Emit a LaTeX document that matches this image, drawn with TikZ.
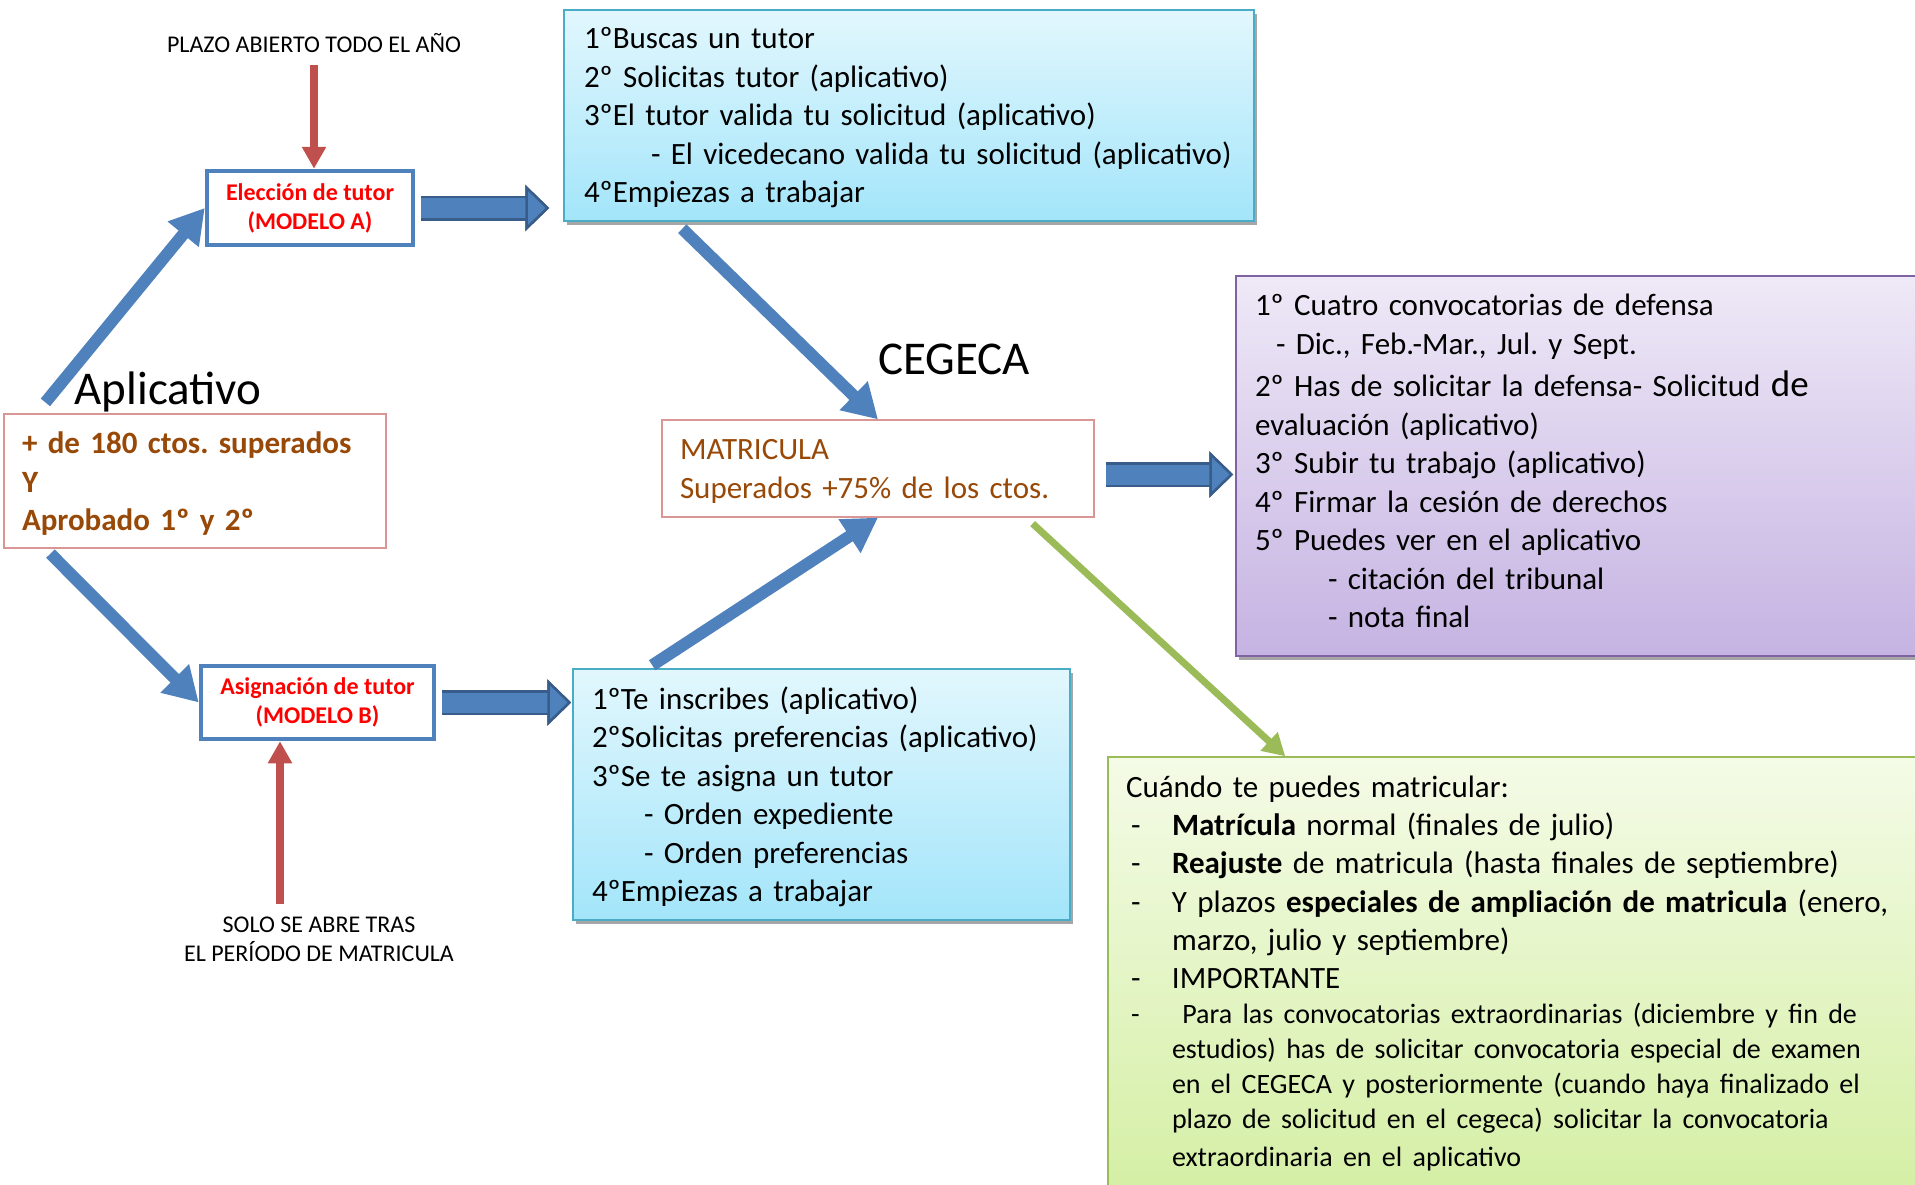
\documentclass[tikz,border=0pt]{standalone}
\usepackage{fontspec}
\setmainfont{Carlito}
\usepackage{tikz}
\usetikzlibrary{arrows.meta,shadows}

\definecolor{arrowblue}{HTML}{4F81BD}
\definecolor{darkblue}{HTML}{385D8A}
\definecolor{arrowred}{HTML}{C0504D}
\definecolor{arrowgreen}{HTML}{9BBB59}
\definecolor{textbrown}{HTML}{984807}
\definecolor{pinkline}{HTML}{D99694}
\definecolor{cyanline}{HTML}{4BACC6}
\definecolor{cyantop}{HTML}{E2F7FD}
\definecolor{cyanbot}{HTML}{A3E5FA}
\definecolor{purpleline}{HTML}{8064A2}
\definecolor{purpletop}{HTML}{EFE9F7}
\definecolor{purplebot}{HTML}{C5B3E2}
\definecolor{greentop}{HTML}{F4FBE7}
\definecolor{greenbot}{HTML}{D5EFA5}

\frenchspacing
\hyphenpenalty=10000
\exhyphenpenalty=10000
\newcommand{\itemdash}{\hspace*{5pt}\makebox[41pt][l]{-}}
\newcommand{\itemgap}{\hspace*{46pt}}

\begin{document}
\begin{tikzpicture}[x=1pt, y=-1pt,
  bigarrow/.style={line width=12pt, arrowblue, -{Triangle[width=38pt,length=34pt]}},
  redarrow/.style={line width=8pt, arrowred, -{Triangle[width=23pt,length=22pt]}},
  greenarrow/.style={line width=7pt, arrowgreen, -{Triangle[width=24pt,length=22pt]}},
  blockarrow/.style={line width=20pt, arrowblue, preaction={draw=darkblue, line width=25pt},
    -{Triangle[width=46pt,length=24pt,line width=2.5pt,color=darkblue,fill=arrowblue]}},
  modelbox/.style={draw=arrowblue, line width=4.5pt, fill=white, text=red, align=center,
    font=\bfseries\fontsize{24}{29}\selectfont},
  condbox/.style={draw=pinkline, line width=1.2pt, fill=white, text=textbrown, align=left,
    inner xsep=18pt, inner ysep=0pt},
  infobox/.style={line width=1.5pt, align=left, inner ysep=0pt,
    font=\fontsize{31}{38.5}\selectfont,
    drop shadow={shadow xshift=3pt, shadow yshift=-4pt, opacity=.35, fill=black}},
  smalltext/.style={font=\fontsize{24}{29}\selectfont, align=center, inner sep=0pt},
  bigtext/.style={font=\fontsize{47}{56}\selectfont, inner sep=0pt}
]
  \fill[white] (0,0) rectangle (1915,1184);
  \useasboundingbox (0,0) rectangle (1915,1184);

  % define the nodes
  \node[smalltext] (plazo) at (314,43) {PLAZO ABIERTO TODO EL AÑO};
  \node[smalltext] (solo) at (319,939) {SOLO SE ABRE TRAS\\EL PERÍODO DE MATRICULA};
  \node[bigtext] (aplicativo) at (168,392) {Aplicativo};
  \node[bigtext] (cegeca) at (954,359) {CEGECA};

  \node[modelbox, minimum width=206pt, minimum height=74pt] (eleccion) at (310,208)
    {Elección de tutor\\(MODELO A)};
  \node[modelbox, minimum width=233pt, minimum height=73pt] (asignacion) at (317.5,702.5)
    {Asignación de tutor\\(MODELO B)};

  \node[condbox, text width=346pt, minimum height=134pt, text depth=76pt,
    font=\bfseries\fontsize{31}{38.5}\selectfont] (requisitos) at (195,481)
    {+ de 180 ctos. superados\\Y\\Aprobado 1º y 2º};
  \node[condbox, text width=396pt, minimum height=97pt, text depth=37.5pt,
    font=\fontsize{31}{39}\selectfont] (matricula) at (878,468.5)
    {MATRICULA\\Superados +75\% de los ctos.};

  \node[infobox, draw=cyanline, top color=cyantop, bottom color=cyanbot,
    text width=650pt, inner xsep=20pt, minimum height=211pt, text depth=155pt] (pasosA) at (909,115.5)
    {1ºBuscas un tutor\\
     2º Solicitas tutor (aplicativo)\\
     3ºEl tutor valida tu solicitud (aplicativo)\\
     \hspace*{67pt}\mbox{- El vicedecano valida tu solicitud (aplicativo)}\\
     4ºEmpiezas a trabajar};
  \node[infobox, draw=cyanline, top color=cyantop, bottom color=cyanbot,
    text width=459pt, inner xsep=19pt, minimum height=251pt, text depth=193.5pt] (pasosB) at (821.5,794.5)
    {1ºTe inscribes (aplicativo)\\
     \mbox{2ºSolicitas preferencias (aplicativo)}\\
     3ºSe te asigna un tutor\\
     \hspace*{52pt}- Orden expediente\\
     \hspace*{52pt}- Orden preferencias\\
     4ºEmpiezas a trabajar};
  \node[infobox, draw=purpleline, top color=purpletop, bottom color=purplebot,
    text width=661pt, inner xsep=19pt, minimum height=380pt, text depth=322pt] (defensa) at (1585.5,466)
    {1º Cuatro convocatorias de defensa\\
     \hspace*{21pt}- Dic., Feb.-Mar., Jul. y Sept.\\[4pt]
     2º Has de solicitar la defensa- Solicitud {\fontsize{37}{38.5}\selectfont de}\\
     evaluación (aplicativo)\\
     3º Subir tu trabajo (aplicativo)\\
     4º Firmar la cesión de derechos\\
     5º Puedes ver en el aplicativo\\
     \hspace*{73pt}- citación del tribunal\\
     \hspace*{73pt}- nota final};
  \node[infobox, draw=arrowgreen, top color=greentop, bottom color=greenbot,
    font=\fontsize{31}{38.1}\selectfont,
    text width=796pt, inner xsep=18pt, minimum height=433pt] (plazos) at (1524,973.5)
    {Cuándo te puedes matricular:\\
     \itemdash\textbf{Matrícula} normal (finales de julio)\\
     \itemdash\textbf{Reajuste} de matricula (hasta finales de septiembre)\\
     \itemdash Y plazos \textbf{especiales de ampliación de matricula} (enero,\\
     \itemgap marzo, julio y septiembre)\\
     \itemdash IMPORTANTE\par
     \noindent\fontsize{28}{35}\selectfont
     \itemdash\ Para las convocatorias extraordinarias (diciembre y fin de\\
     \itemgap estudios) has de solicitar convocatoria especial de examen\\
     \itemgap en el CEGECA y posteriormente (cuando haya finalizado el\\
     \itemgap plazo de solicitud en el cegeca) solicitar la convocatoria\\
     \itemgap extraordinaria en el aplicativo};

  % define the coordinates
  \coordinate (soloArrow) at (280,904);

  % draw the arrows
  \draw[redarrow] ([yshift=-12pt]plazo.south) -- (plazo.south |- eleccion.north);
  \draw[redarrow] (soloArrow) -- (soloArrow |- asignacion.south);
  \draw[bigarrow] ([xshift=42pt,yshift=11pt]requisitos.north west) -- (eleccion.west);
  \draw[bigarrow] ([xshift=47pt,yshift=-5pt]requisitos.south west) -- (asignacion.west);
  \draw[bigarrow] ([xshift=119pt,yshift=-7pt]pasosA.south west) -- (matricula.north);
  \draw[bigarrow] ([xshift=80pt,yshift=3pt]pasosB.north west) -- (matricula.south);
  \draw[greenarrow] ([xshift=-62pt,yshift=-6pt]matricula.south east)
    -- ([xshift=178pt]plazos.north west);
  \draw[blockarrow, shorten <=6pt, shorten >=14pt] (eleccion.east) -- (eleccion.east -| pasosA.west);
  \draw[blockarrow, shorten <=6pt, shorten >=1pt] (asignacion.east) -- (asignacion.east -| pasosB.west);
  \draw[blockarrow, shorten <=11pt, shorten >=2pt] ([yshift=-6pt]matricula.east)
    -- ([yshift=-6pt]matricula.east -| defensa.west);
\end{tikzpicture}
\end{document}
